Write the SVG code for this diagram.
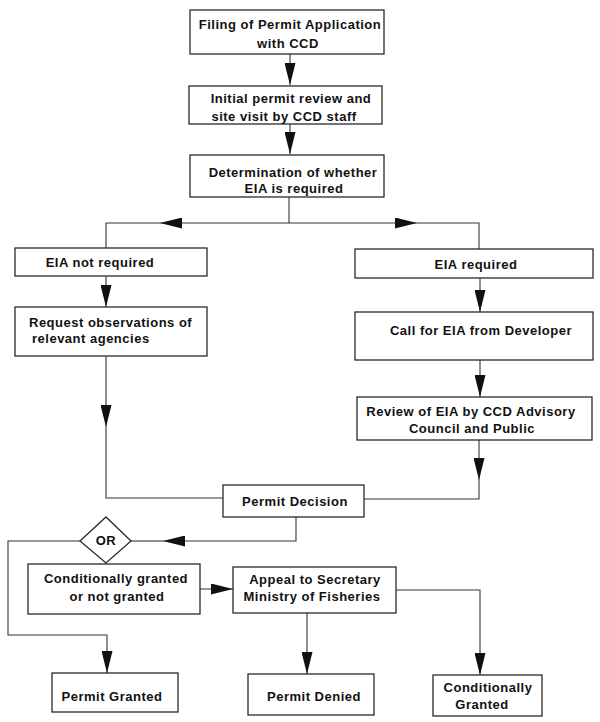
<svg xmlns="http://www.w3.org/2000/svg" width="600" height="722" viewBox="0 0 600 722">
<defs>
<style>
.box{fill:#fff;stroke:#2a2a2a;stroke-width:1.3}
.ln{fill:none;stroke:#333;stroke-width:1.1}
text{font-family:"Liberation Sans",Arial,sans-serif;font-weight:bold;font-size:13px;letter-spacing:0.5px;fill:#111}
.c{text-anchor:middle}
</style>
<marker id="ah" markerUnits="userSpaceOnUse" markerWidth="22" markerHeight="11" refX="22" refY="5.5" orient="auto" viewBox="0 0 22 11">
<path d="M0,0 L22,5.5 L0,11 z" fill="#111"/>
</marker>
</defs>
<rect width="600" height="722" fill="#fff"/>
<g id="connectors">
<path class="ln" d="M290,54 L290,85" marker-end="url(#ah)"/>
<path class="ln" d="M290,124 L290,154" marker-end="url(#ah)"/>
<path class="ln" d="M289,197 L289,223 L160,223" marker-end="url(#ah)"/>
<path class="ln" d="M160,223 L106,223 L106,248"/>
<path class="ln" d="M289,223 L417,223" marker-end="url(#ah)"/>
<path class="ln" d="M417,223 L479,223 L479,249"/>
<path class="ln" d="M106,276 L106,307" marker-end="url(#ah)"/>
<path class="ln" d="M480,278 L480,312" marker-end="url(#ah)"/>
<path class="ln" d="M480,360 L480,397" marker-end="url(#ah)"/>
<path class="ln" d="M106,356 L106,427" marker-end="url(#ah)"/>
<path class="ln" d="M106,427 L106,498 L223,498"/>
<path class="ln" d="M479,440 L479,480" marker-end="url(#ah)"/>
<path class="ln" d="M479,480 L479,499 L364,499"/>
<path class="ln" d="M296,517 L296,541 L163,541" marker-end="url(#ah)"/>
<path class="ln" d="M163,541 L131,541"/>
<path class="ln" d="M80,541 L8,541 L8,635 L107,635 L107,673" marker-end="url(#ah)"/>
<path class="ln" d="M200,589 L233,589" marker-end="url(#ah)"/>
<path class="ln" d="M307,613 L307,674" marker-end="url(#ah)"/>
<path class="ln" d="M396,590 L480,590 L480,675" marker-end="url(#ah)"/>
</g>
<g id="filing">
<rect class="box" x="190" y="10" width="194" height="44"/>
<text class="c" x="290" y="29">Filing of Permit Application</text>
<text class="c" x="288" y="48">with CCD</text>
</g>
<g id="initial-review">
<rect class="box" x="189" y="86" width="193" height="38"/>
<text class="c" x="291" y="103">Initial permit review and</text>
<text class="c" x="284" y="121">site visit by CCD staff</text>
</g>
<g id="determination">
<rect class="box" x="190" y="155" width="194" height="42"/>
<text class="c" x="293" y="177">Determination of whether</text>
<text class="c" x="294" y="193">EIA is required</text>
</g>
<g id="eia-not-required">
<rect class="box" x="15" y="248" width="192" height="28"/>
<text class="c" x="100" y="267">EIA not required</text>
</g>
<g id="request-observations">
<rect class="box" x="15" y="307" width="192" height="49"/>
<text x="29" y="327">Request observations of</text>
<text x="32" y="343">relevant agencies</text>
</g>
<g id="eia-required">
<rect class="box" x="355" y="249" width="238" height="29"/>
<text class="c" x="476" y="269">EIA required</text>
</g>
<g id="call-for-eia">
<rect class="box" x="355" y="312" width="238" height="48"/>
<text class="c" x="481" y="335">Call for EIA from Developer</text>
</g>
<g id="review-eia">
<rect class="box" x="357" y="397" width="235" height="43"/>
<text class="c" x="471" y="416">Review of EIA by CCD Advisory</text>
<text class="c" x="472" y="433">Council and Public</text>
</g>
<g id="permit-decision">
<rect class="box" x="223" y="485" width="141" height="32"/>
<text class="c" x="295" y="506">Permit Decision</text>
</g>
<g id="or">
<polygon class="box" points="80,541 106,517 131,541 106,563"/>
<text class="c" x="106" y="545">OR</text>
</g>
<g id="conditionally-or-not">
<rect class="box" x="28" y="564" width="172" height="50"/>
<text class="c" x="116" y="583">Conditionally granted</text>
<text class="c" x="117" y="601">or not granted</text>
</g>
<g id="appeal">
<rect class="box" x="233" y="567" width="163" height="46"/>
<text class="c" x="315" y="584">Appeal to Secretary</text>
<text class="c" x="312" y="601">Ministry of Fisheries</text>
</g>
<g id="permit-granted">
<rect class="box" x="52" y="673" width="126" height="39"/>
<text class="c" x="112" y="701">Permit Granted</text>
</g>
<g id="permit-denied">
<rect class="box" x="248" y="674" width="126" height="41"/>
<text class="c" x="314" y="701">Permit Denied</text>
</g>
<g id="conditionally-granted">
<rect class="box" x="433" y="675" width="109" height="41"/>
<text class="c" x="488" y="692">Conditionally</text>
<text class="c" x="482" y="709">Granted</text>
</g>
</svg>
